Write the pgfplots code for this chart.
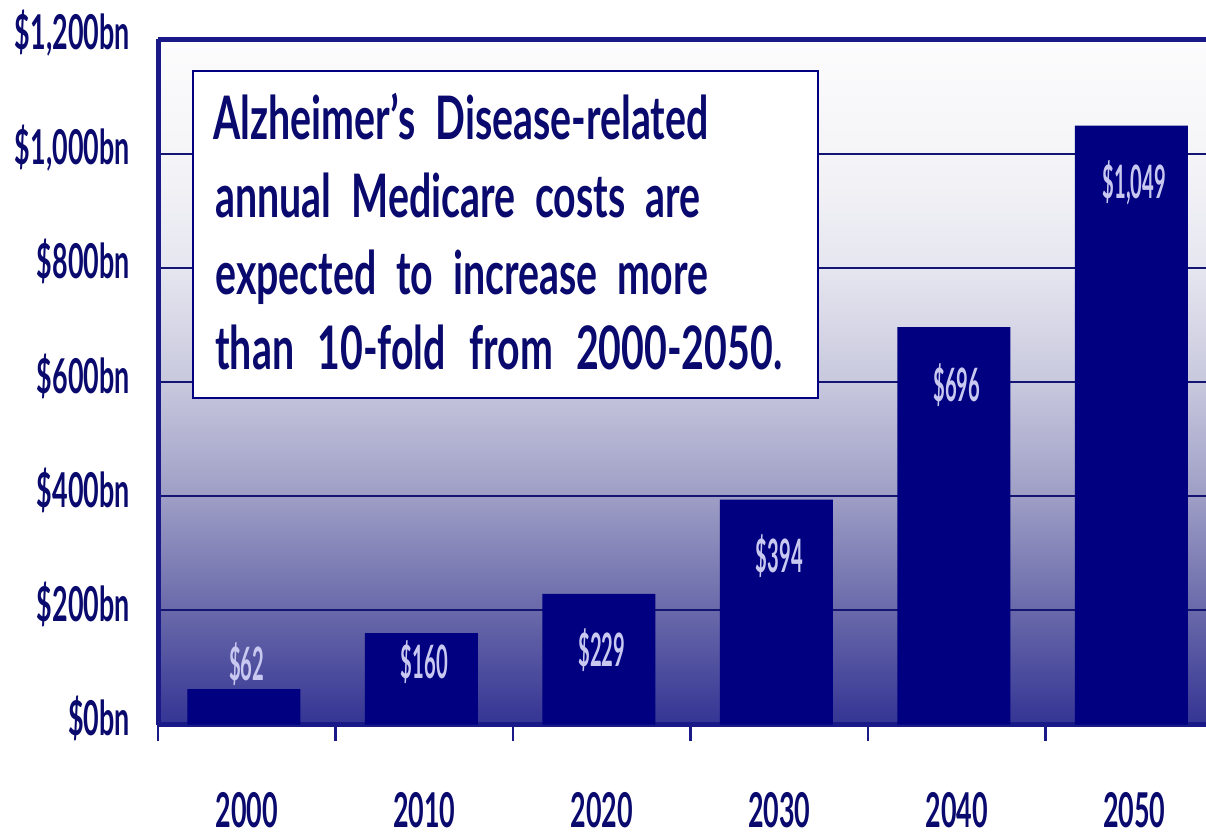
\documentclass[border=0pt]{standalone}
\usepackage{pgfplots}
\pgfplotsset{compat=1.18}
\usepackage{pgfplotstable}
\usepackage{fontspec}
\setmainfont{Lato}
\newfontfamily\boxfont{Lato}[FakeStretch=0.655]
\newfontfamily\tickfont{Lato}[FakeStretch=0.56]
\newfontfamily\valfont{Lato}[FakeStretch=0.44]

\definecolor{barnavy}{RGB}{0,0,128}
\definecolor{ink}{RGB}{10,10,110}
\definecolor{axcol}{RGB}{25,25,135}
\definecolor{gridcol}{RGB}{20,20,115}
\definecolor{lbl}{RGB}{200,200,240}
\definecolor{g0}{RGB}{52,52,148}
\definecolor{g1}{RGB}{105,105,170}
\definecolor{g2}{RGB}{158,158,198}
\definecolor{g3}{RGB}{200,200,222}
\definecolor{g4}{RGB}{230,230,240}
\definecolor{g5}{RGB}{245,245,248}
\definecolor{g6}{RGB}{252,252,253}
\pgfdeclareverticalshading{bggrad}{100bp}{color(0bp)=(g0); color(25bp)=(g0);
  color(33.33bp)=(g1); color(41.67bp)=(g2); color(50bp)=(g3);
  color(58.33bp)=(g4); color(66.67bp)=(g5); color(75bp)=(g6); color(100bp)=(g6)}

% medicare cost, $bn; dy = label offset from bar top (bp)
\pgfplotstableread{
x y dy
0 62 12.5
1 160 -14.5
2 229 -28
3 394 -28.5
4 696 -29
5 1049 -28.5
}\costs

\begin{document}
\begin{tikzpicture}
\useasboundingbox (0,0) rectangle (603bp,418bp);
\begin{axis}[
  at={(79bp,55.75bp)}, anchor=south west,
  scale only axis, width=524bp, height=342.5bp,
  axis x line*=box, axis y line*=left,
  axis line style={-, line width=2.5bp, draw=axcol},
  axis background/.style={shading=bggrad},
  xmin=-0.5, xmax=5.404, ymin=0, ymax=1200,
  enlargelimits=false,
  xtick={0,...,5},
  xticklabels={2000,2010,2020,2030,2040,2050},
  minor xtick={-0.5,0.5,...,4.5},
  ytick={0,200,...,1200},
  xtick pos=bottom, ytick pos=left,
  tick align=outside,
  major tick length=0pt, minor tick length=8bp,
  minor tick style={line width=1.25bp, draw=axcol},
  ymajorgrids,
  major grid style={line width=0.9bp, draw=gridcol},
  /pgf/number format/assume math mode=true,
  yticklabel={\$\pgfmathprintnumber{\tick}bn},
  yticklabel style={font=\tickfont\bfseries\fontsize{24bp}{24bp}\selectfont, text=ink,
    anchor=east, inner sep=0pt, xshift=-14bp, yshift=3bp},
  xticklabel style={font=\tickfont\bfseries\fontsize{24bp}{24bp}\selectfont, text=ink,
    anchor=north, inner sep=0pt, yshift=-34bp},
]
\addplot[ybar, bar width=56.5bp, bar shift=-1.5bp, fill=barnavy, draw=none,
  visualization depends on={\thisrow{dy}\as\dy},
  nodes near coords={\$\pgfmathprintnumber{\pgfplotspointmeta}},
  every node near coord/.append style={font=\valfont\bfseries\fontsize{23bp}{23bp}\selectfont,
    text=lbl, anchor=center, inner sep=0pt, yshift=\dy bp}]
  table[x=x, y=y] {\costs};

\node[draw=barnavy, line width=1bp, fill=white, anchor=north west,
  minimum width=312.5bp, minimum height=163.5bp, inner sep=0pt] (box)
  at (rel axis cs:0.0324,0.9555) {};
\begin{scope}[every node/.style={anchor=base west, inner sep=0pt, text=ink,
    font=\boxfont\bfseries\fontsize{30bp}{36bp}\selectfont}]
\node at ([xshift=10.5bp,yshift=-35bp]box.north west) {\makebox[247.5bp][s]{Alzheimer’s Disease-related}};
\node at ([xshift=11.5bp,yshift=-74bp]box.north west) {\makebox[242.5bp][s]{annual Medicare costs are}};
\node at ([xshift=11.5bp,yshift=-112.5bp]box.north west) {\makebox[246.5bp][s]{expected to increase more}};
\node at ([xshift=11.5bp,yshift=-150bp]box.north west) {\makebox[283.5bp][s]{than 10-fold from 2000-2050.}};
\end{scope}
\end{axis}
\end{tikzpicture}
\end{document}
